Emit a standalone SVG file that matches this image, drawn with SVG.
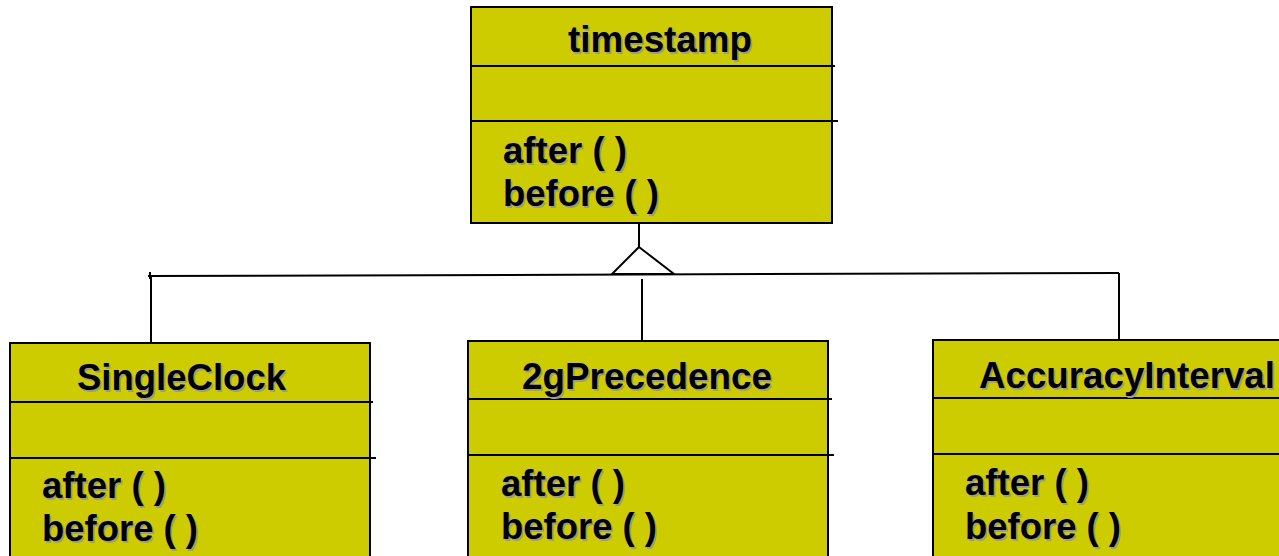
<svg xmlns="http://www.w3.org/2000/svg" width="1279" height="556" viewBox="0 0 1279 556">
  <style>
    .box { fill: #cccc00; stroke: #000; stroke-width: 2; }
    .div { stroke: #000; stroke-width: 2; fill: none; }
    .conn { stroke: #000; stroke-width: 2; fill: none; }
    .t, .sh { font-family: "Liberation Sans", Arial, sans-serif; font-weight: bold; font-size: 36.5px; }
    .t { fill: #000; }
    .sh { fill: #9a9a9a; }
  </style>
  <rect width="1279" height="556" fill="#fff"/>

  <!-- generalization connectors -->
  <g id="connectors">
    <line class="conn" x1="639" y1="223" x2="639" y2="247"/>
    <polygon class="conn" points="639,247 612,274 674,274" fill="#fff"/>
    <line class="conn" x1="148" y1="276" x2="1119" y2="273"/>
    <line class="conn" x1="150" y1="272" x2="150" y2="279"/>
    <line class="conn" x1="151" y1="276" x2="151" y2="343"/>
    <line class="conn" x1="642" y1="279" x2="642" y2="343"/>
    <line class="conn" x1="1119" y1="273" x2="1119" y2="347"/>
  </g>

  <!-- base class -->
  <g id="timestamp">
    <rect class="box" x="471" y="7" width="361" height="216"/>
    <line class="div" x1="471" y1="66" x2="835" y2="66"/>
    <line class="div" x1="471" y1="121" x2="838" y2="121"/>
    <text class="sh" x="569.5" y="53.5" textLength="184" lengthAdjust="spacingAndGlyphs">timestamp</text>
    <text class="t" x="568" y="52" textLength="184" lengthAdjust="spacingAndGlyphs">timestamp</text>
    <text class="sh" x="504.5" y="164.5" textLength="124" lengthAdjust="spacingAndGlyphs">after ( )</text>
    <text class="t" x="503" y="163" textLength="124" lengthAdjust="spacingAndGlyphs">after ( )</text>
    <text class="sh" x="504.5" y="207.5" textLength="156" lengthAdjust="spacingAndGlyphs">before ( )</text>
    <text class="t" x="503" y="206" textLength="156" lengthAdjust="spacingAndGlyphs">before ( )</text>
  </g>

  <g id="singleclock">
    <rect class="box" x="10" y="343" width="360" height="230"/>
    <line class="div" x1="10" y1="402" x2="373" y2="402"/>
    <line class="div" x1="10" y1="458" x2="376" y2="458"/>
    <text class="sh" x="78.5" y="391.5" textLength="209" lengthAdjust="spacingAndGlyphs">SingleClock</text>
    <text class="t" x="77" y="390" textLength="209" lengthAdjust="spacingAndGlyphs">SingleClock</text>
    <text class="sh" x="43.5" y="499.5" textLength="124" lengthAdjust="spacingAndGlyphs">after ( )</text>
    <text class="t" x="42" y="498" textLength="124" lengthAdjust="spacingAndGlyphs">after ( )</text>
    <text class="sh" x="43.5" y="542.5" textLength="156" lengthAdjust="spacingAndGlyphs">before ( )</text>
    <text class="t" x="42" y="541" textLength="156" lengthAdjust="spacingAndGlyphs">before ( )</text>
  </g>

  <g id="precedence">
    <rect class="box" x="468" y="341" width="360" height="230"/>
    <line class="div" x1="468" y1="399" x2="832" y2="399"/>
    <line class="div" x1="468" y1="455" x2="834" y2="455"/>
    <text class="sh" x="523.5" y="390.5" textLength="250" lengthAdjust="spacingAndGlyphs">2gPrecedence</text>
    <text class="t" x="522" y="389" textLength="250" lengthAdjust="spacingAndGlyphs">2gPrecedence</text>
    <text class="sh" x="502.5" y="497.5" textLength="124" lengthAdjust="spacingAndGlyphs">after ( )</text>
    <text class="t" x="501" y="496" textLength="124" lengthAdjust="spacingAndGlyphs">after ( )</text>
    <text class="sh" x="502.5" y="540.5" textLength="156" lengthAdjust="spacingAndGlyphs">before ( )</text>
    <text class="t" x="501" y="539" textLength="156" lengthAdjust="spacingAndGlyphs">before ( )</text>
  </g>

  <g id="accuracyinterval">
    <rect class="box" x="933" y="340" width="360" height="230"/>
    <line class="div" x1="933" y1="398" x2="1290" y2="398"/>
    <line class="div" x1="933" y1="454" x2="1290" y2="454"/>
    <text class="sh" x="980.5" y="389.5" textLength="296" lengthAdjust="spacingAndGlyphs">AccuracyInterval</text>
    <text class="t" x="979" y="388" textLength="296" lengthAdjust="spacingAndGlyphs">AccuracyInterval</text>
    <text class="sh" x="966.5" y="496.5" textLength="124" lengthAdjust="spacingAndGlyphs">after ( )</text>
    <text class="t" x="965" y="495" textLength="124" lengthAdjust="spacingAndGlyphs">after ( )</text>
    <text class="sh" x="966.5" y="540.5" textLength="156" lengthAdjust="spacingAndGlyphs">before ( )</text>
    <text class="t" x="965" y="539" textLength="156" lengthAdjust="spacingAndGlyphs">before ( )</text>
  </g>
</svg>
